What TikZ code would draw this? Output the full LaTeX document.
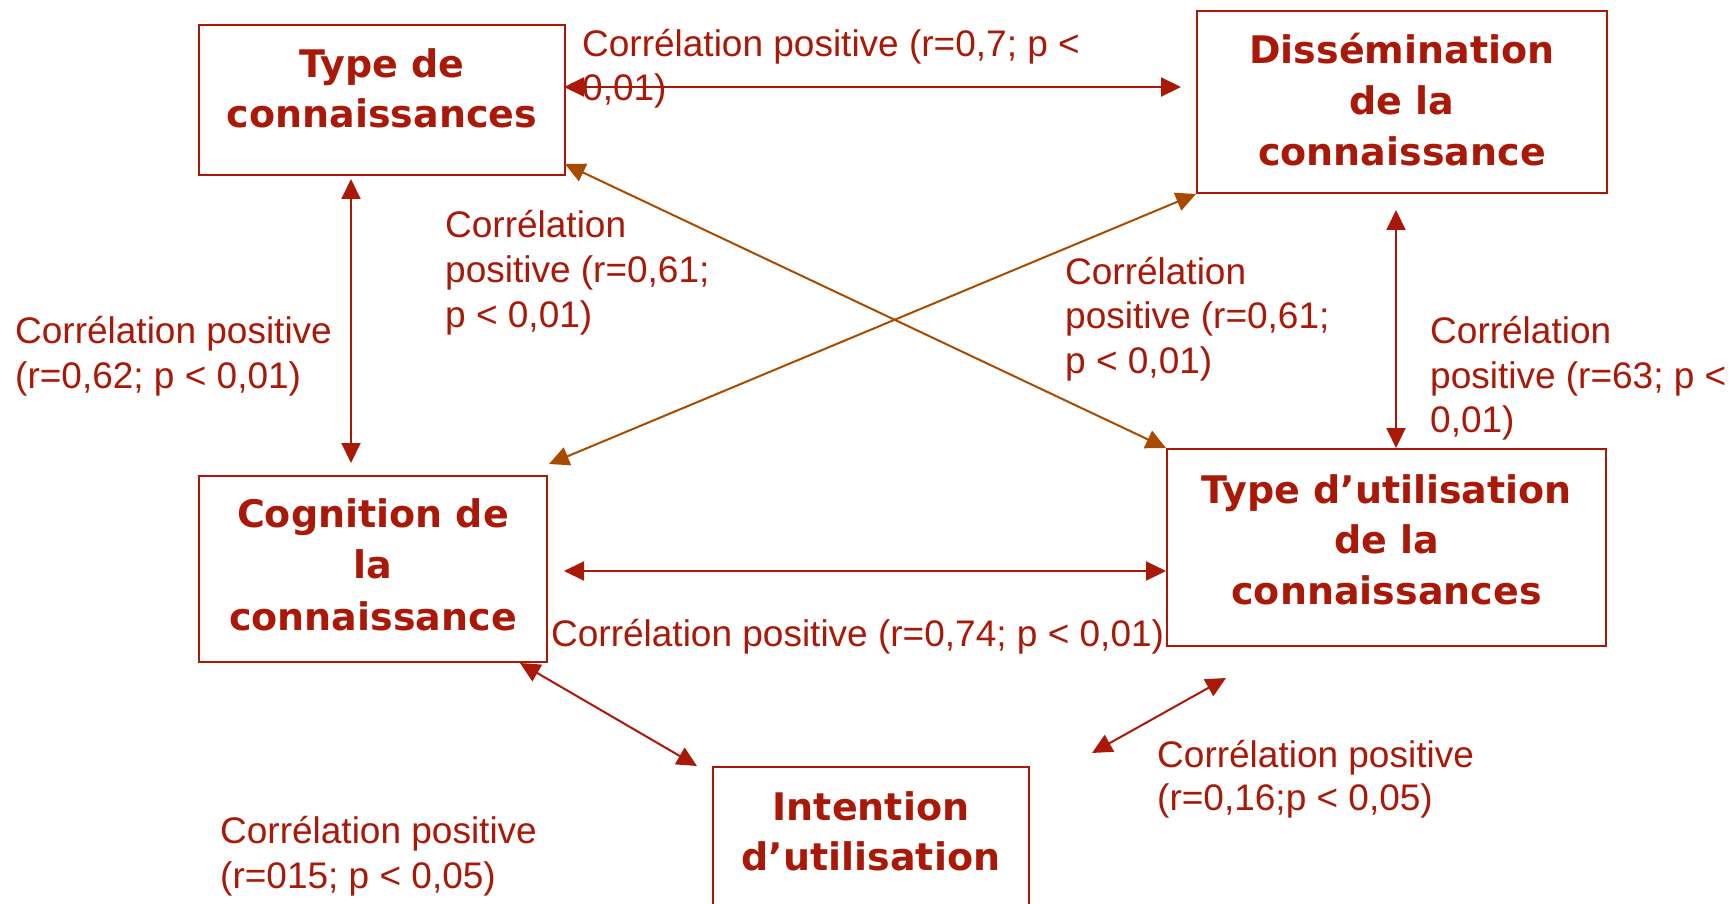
\documentclass[tikz,border=0pt]{standalone}
\usepackage{fontspec}
\setmainfont{Liberation Sans}
\newfontfamily\boxfont{DejaVu Sans}
\usetikzlibrary{arrows.meta,calc}
\definecolor{rred}{RGB}{170,24,8}
\definecolor{rbrown}{RGB}{168,74,0}
\tikzset{
 box/.style={draw=rred, line width=2pt, inner sep=0pt},
 bt/.style={text=rred, font=\boxfont\bfseries\fontsize{38}{51}\selectfont, anchor=base, inner sep=0pt},
 lt/.style={text=rred, font=\fontsize{37}{44}\selectfont, anchor=base west, inner sep=0pt},
 rel/.style={draw=rred, line width=2pt, arrows={Triangle[length=20pt,width=19pt]-Triangle[length=20pt,width=19pt]}},
 relb/.style={rel, draw=rbrown}
}
\begin{document}
\begin{tikzpicture}[x=1pt,y=-1pt]
\clip (0,0) rectangle (1735,904);
% boxes
\node[box, minimum width=366pt, minimum height=150pt] (tc) at (382,100) {};
\node[box, minimum width=410pt, minimum height=182pt] (dm) at (1402,102) {};
\node[box, minimum width=348pt, minimum height=186pt] (cg) at (373,569) {};
\node[box, minimum width=439pt, minimum height=197pt] (tu) at (1386.5,547.5) {};
\node[box, minimum width=316pt, minimum height=156pt] (it) at (871,845) {};
% box texts
\node[bt] (tc1) at (382,78) {Type de};
\node[bt] (tc2) at (382,128) {connaissances};
\node[bt] (dm1) at (1402,64) {Dissémination};
\node[bt] (dm2) at (1402,115) {de la};
\node[bt] (dm3) at (1402,166) {connaissance};
\node[bt] (cg1) at (373,527) {Cognition de};
\node[bt] (cg2) at (373,578) {la};
\node[bt] (cg3) at (373,630) {connaissance};
\node[bt] (tu1) at (1386.5,503) {Type d’utilisation};
\node[bt] (tu2) at (1386.5,553) {de la};
\node[bt] (tu3) at (1386.5,604) {connaissances};
\node[bt] (it1) at (871,820) {Intention};
\node[bt] (it2) at (871,870) {d’utilisation};
% labels
\node[lt] (l1a) at (582,57) {Corrélation positive (r=0,7; p <};
\node[lt] (l1b) at (582,101) {0,01)};
\node[lt] (l2a) at (445,238) {Corrélation};
\node[lt] (l2b) at (445,283) {positive (r=0,61;};
\node[lt] (l2c) at (445,327) {p < 0,01)};
\node[lt] (l3a) at (15,343) {Corrélation positive};
\node[lt] (l3b) at (15,388) {(r=0,62; p < 0,01)};
\node[lt] (l4a) at (1065,284) {Corrélation};
\node[lt] (l4b) at (1065,328) {positive (r=0,61;};
\node[lt] (l4c) at (1065,373) {p < 0,01)};
\node[lt] (l5a) at (1430,343) {Corrélation};
\node[lt] (l5b) at (1430,388) {positive (r=63; p <};
\node[lt] (l5c) at (1430,432) {0,01)};
\node[lt] (l6a) at (551,646) {Corrélation positive (r=0,74; p < 0,01)};
\node[lt] (l7a) at (1157,767) {Corrélation positive};
\node[lt] (l7b) at (1157,810) {(r=0,16;p < 0,05)};
\node[lt] (l8a) at (220,843) {Corrélation positive};
\node[lt] (l8b) at (220,888) {(r=015; p < 0,05)};
% connectors
\coordinate (free) at (1092,753);
\draw[rel] ($(tc.east)+(-2,-13)$) -- ($(dm.west)+(-15,-15)$);
\draw[rel] ($(tc.south)+(-31,3)$) -- ($(cg.north)+(-22,-12)$);
\draw[relb] ($(tc.south east)+(-1,-12)$) -- (tu.north west);
\draw[relb] ($(cg.north east)+(1,-11)$) -- (dm.south west);
\draw[rel] ($(dm.south)+(-6,16)$) -- ($(tu.north)+(9.5,0)$);
\draw[rel] ($(cg.east)+(16,2)$) -- ($(tu.west)+(0,23.5)$);
\draw[rel] ($(cg.south east)+(-28,0)$) -- ($(it.north west)+(-15,0)$);
\draw[rel] ($(tu.south)+(-160.5,31)$) -- (free);
\end{tikzpicture}
\end{document}
